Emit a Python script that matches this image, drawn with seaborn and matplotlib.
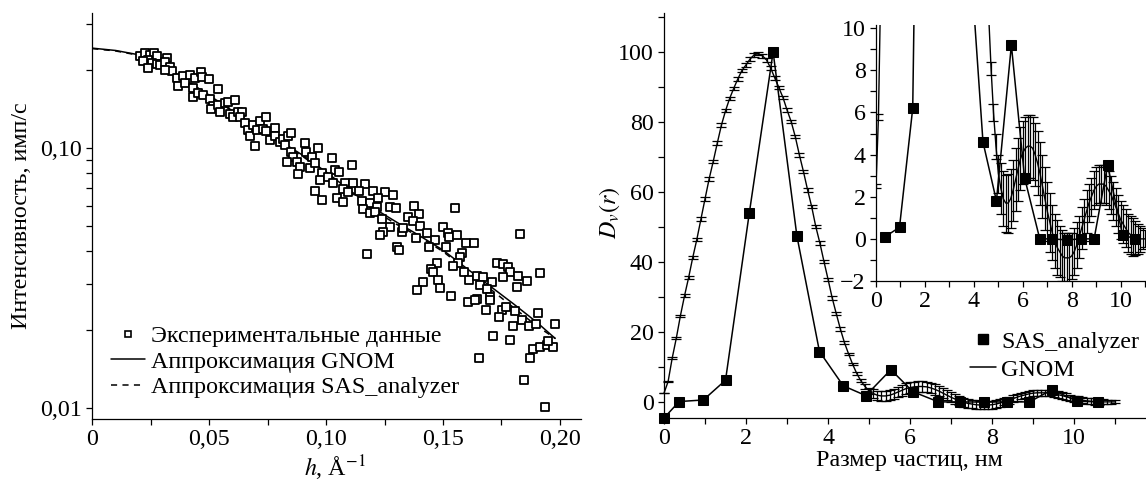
import matplotlib
matplotlib.use("Agg")
import matplotlib.pyplot as plt
import numpy as np
import seaborn as sns
from matplotlib.lines import Line2D
from matplotlib.ticker import FixedLocator, LogLocator, MultipleLocator, NullFormatter

# left panel: scattering curve, h (1/A) vs intensity
exp_h = [
    0.0204, 0.0225, 0.0247, 0.0265, 0.0275, 0.0240, 0.0218, 0.0254, 0.0275, 0.0318,
    0.0240, 0.0289, 0.0311, 0.0332, 0.0342, 0.0311, 0.0361, 0.0389, 0.0368, 0.0396,
    0.0418, 0.0439, 0.0465, 0.0468, 0.0499, 0.0432, 0.0536, 0.0432, 0.0453, 0.0475,
    0.0503, 0.0517, 0.0510, 0.0539, 0.0546, 0.0567, 0.0581, 0.0610, 0.0589, 0.0603,
    0.0624, 0.0639, 0.0631, 0.0653, 0.0667, 0.0674, 0.0695, 0.0688, 0.0703, 0.0717,
    0.0745, 0.0731, 0.0745, 0.0781, 0.0760, 0.0781, 0.0802, 0.0817, 0.0838, 0.0849,
    0.0824, 0.0852, 0.0859, 0.0831, 0.0874, 0.0888, 0.0881, 0.0909, 0.0916, 0.0938,
    0.0966, 0.0930, 0.0952, 0.0981, 0.0973, 0.0952, 0.0981, 0.1024, 0.1112, 0.1038,
    0.1057, 0.1010, 0.1031, 0.1081, 0.1117, 0.1166, 0.1071, 0.1095, 0.1142, 0.1199,
    0.1252, 0.1288, 0.1045, 0.1074, 0.1152, 0.1188, 0.1223, 0.1216, 0.1273, 0.1299,
    0.1376, 0.1159, 0.1188, 0.1209, 0.1238, 0.1273, 0.1245, 0.1231, 0.1323, 0.1327,
    0.1352, 0.1399, 0.1370, 0.1402, 0.1433, 0.1466, 0.1384, 0.1441, 0.1513, 0.1174,
    0.1302, 0.1312, 0.1551, 0.1501, 0.1523, 0.1527, 0.1558, 0.1598, 0.1632, 0.1580,
    0.1573, 0.1565, 0.1544, 0.1473, 0.1449, 0.1459, 0.1413, 0.1387, 0.1480, 0.1487,
    0.1590, 0.1611, 0.1644, 0.1672, 0.1711, 0.1658, 0.1687, 0.1701, 0.1533, 0.1644,
    0.1729, 0.1755, 0.1779, 0.1786, 0.1822, 0.1755, 0.1858, 0.1815, 0.1829, 0.1917,
    0.1608, 0.1637, 0.1701, 0.1684, 0.1751, 0.1769, 0.1808, 0.1741, 0.1836, 0.1798,
    0.1867, 0.1900, 0.1907, 0.1979, 0.1715, 0.1786, 0.1886, 0.1915, 0.1943, 0.1972,
    0.1950, 0.1872, 0.1655, 0.1846, 0.1936,
]
exp_i = [
    0.226, 0.232, 0.229, 0.232, 0.226, 0.219, 0.216, 0.213, 0.211, 0.222,
    0.203, 0.210, 0.214, 0.206, 0.199, 0.200, 0.186, 0.189, 0.173, 0.178,
    0.191, 0.186, 0.197, 0.188, 0.185, 0.170, 0.169, 0.157, 0.163, 0.160,
    0.155, 0.145, 0.141, 0.147, 0.138, 0.150, 0.151, 0.153, 0.136, 0.132,
    0.138, 0.138, 0.132, 0.125, 0.118, 0.111, 0.102, 0.123, 0.118, 0.127,
    0.132, 0.119, 0.116, 0.120, 0.108, 0.111, 0.106, 0.109, 0.111, 0.114,
    0.103, 0.0971, 0.0929, 0.0888, 0.0888, 0.0849, 0.0796, 0.105, 0.0971, 0.0929,
    0.100, 0.0837, 0.0875, 0.0800, 0.0755, 0.0687, 0.0632, 0.0915, 0.0862, 0.0825,
    0.0813, 0.0777, 0.0733, 0.0733, 0.0733, 0.0729, 0.0695, 0.0681, 0.0687, 0.0687,
    0.0676, 0.0661, 0.0645, 0.0619, 0.0628, 0.0614, 0.0645, 0.0596, 0.0596, 0.0590,
    0.0599, 0.0582, 0.0561, 0.0570, 0.0532, 0.0496, 0.0477, 0.0463, 0.0477, 0.0491,
    0.0545, 0.0556, 0.0522, 0.0502, 0.0473, 0.0443, 0.0450, 0.0418, 0.0418, 0.0390,
    0.0418, 0.0404, 0.0590, 0.0499, 0.0470, 0.0456, 0.0463, 0.0433, 0.0433, 0.0396,
    0.0382, 0.0360, 0.0353, 0.0362, 0.0341, 0.0334, 0.0306, 0.0283, 0.0311, 0.0289,
    0.0332, 0.0311, 0.0322, 0.0320, 0.0306, 0.0297, 0.0286, 0.0268, 0.0270, 0.0263,
    0.0362, 0.0357, 0.0350, 0.0334, 0.0322, 0.0320, 0.0308, 0.0291, 0.0467, 0.0330,
    0.0256, 0.0259, 0.0260, 0.0239, 0.0239, 0.0245, 0.0235, 0.0223, 0.0218, 0.0207,
    0.0207, 0.0211, 0.0232, 0.0211, 0.0189, 0.0183, 0.0169, 0.0172, 0.0174, 0.0172,
    0.0180, 0.0156, 0.0156, 0.0128, 0.0101,
]
fit_h = [0, 0.01, 0.02, 0.03, 0.04, 0.05, 0.06, 0.07, 0.08, 0.09, 0.10,
         0.11, 0.12, 0.13, 0.14, 0.15, 0.16, 0.17, 0.18, 0.19, 0.198]
gnom_fit = [0.243, 0.238, 0.229, 0.209, 0.182, 0.160, 0.139, 0.122, 0.107, 0.094, 0.081,
            0.069, 0.059, 0.052, 0.046, 0.0405, 0.0345, 0.0295, 0.0252, 0.0214, 0.0185]
sas_fit = [0.242, 0.237, 0.228, 0.209, 0.183, 0.160, 0.139, 0.121, 0.106, 0.093, 0.080,
           0.068, 0.058, 0.051, 0.0455, 0.040, 0.0340, 0.0288, 0.0244, 0.0207, 0.0185]

left_xticks = [0, 0.05, 0.10, 0.15, 0.20]
left_xlabels = ["0", "0,05", "0,10", "0,15", "0,20"]
left_yticks = [0.01, 0.1]
left_ylabels = ["0,01", "0,10"]

# right panel: size distribution D_v(r)
sas_r = [0.0, 0.37, 0.96, 1.5, 2.08, 2.66, 3.24, 3.79, 4.37, 4.92,
         5.53, 6.07, 6.69, 7.21, 7.79, 8.36, 8.91, 9.46, 10.07, 10.58]
sas_dv = [-4.6, 0.1, 0.55, 6.2, 54.0, 100.0, 47.4, 14.4, 4.6, 1.8,
          9.2, 2.9, 0.0, 0.0, -0.05, 0.0, 0.0, 3.5, 0.2, 0.0]

gnom_r = np.round(np.arange(0, 11.01, 0.1), 1)  # GNOM output grid, step 0.1 nm
gnom_dv = [
    2.5, 5.8, 12.5, 18.2, 24.6, 30.3, 35.5, 41.2, 46.4, 52.2,
    58.0, 63.7, 68.7, 74.0, 79.1, 83.2, 86.7, 89.6, 92.3, 94.7,
    96.3, 98.0, 99.2, 99.5, 98.9, 97.7, 95.4, 92.6, 89.8, 87.0,
    83.4, 80.1, 75.8, 70.6, 65.8, 60.6, 55.8, 50.1, 45.4, 40.1,
    35.0, 29.7, 25.2, 20.8, 16.9, 13.7, 10.7, 8.1, 6.0, 4.4,
    3.1, 2.4, 1.9, 1.7, 1.7, 1.9, 2.3, 2.8, 3.3, 3.8,
    4.1, 4.3, 4.4, 4.4, 4.3, 4.0, 3.6, 3.1, 2.5, 1.9,
    1.3, 0.8, 0.3, -0.1, -0.4, -0.6, -0.8, -0.9, -0.9, -0.9,
    -0.8, -0.6, -0.3, 0.1, 0.5, 0.9, 1.3, 1.7, 2.0, 2.3,
    2.5, 2.6, 2.6, 2.6, 2.5, 2.3, 2.1, 1.8, 1.5, 1.2,
    0.9, 0.7, 0.5, 0.3, 0.2, 0.1, 0.05, 0.0, 0.0, 0.0,
    0.0,
]
gnom_err = [
    0.1, 0.15, 0.2, 0.3, 0.3, 0.4, 0.4, 0.5, 0.5, 0.5,
    0.5, 0.5, 0.5, 0.5, 0.5, 0.5, 0.5, 0.5, 0.5, 0.5,
    0.5, 0.5, 0.5, 0.5, 0.5, 0.5, 0.5, 0.5, 0.5, 0.5,
    0.5, 0.5, 0.5, 0.5, 0.5, 0.5, 0.5, 0.5, 0.5, 0.5,
    0.5, 0.5, 0.5, 0.5, 0.4, 0.4, 0.3, 0.3, 0.4, 0.6,
    0.9, 1.2, 1.3, 1.35, 1.4, 1.4, 1.45, 1.5, 1.5, 1.5,
    1.5, 1.5, 1.5, 1.5, 1.5, 1.5, 1.5, 1.5, 1.5, 1.5,
    1.4, 1.4, 1.3, 1.3, 1.3, 1.2, 1.2, 1.2, 1.2, 1.2,
    1.1, 1.1, 1.1, 1.0, 1.0, 1.0, 1.0, 0.9, 0.9, 0.9,
    0.9, 0.9, 0.9, 0.9, 0.9, 0.9, 0.9, 0.9, 0.9, 0.9,
    0.9, 0.9, 0.9, 0.9, 0.9, 0.9, 0.8, 0.7, 0.6, 0.5,
    0.4,
]

sns.set_theme(style="ticks")
plt.rcParams["font.family"] = ["Liberation Serif", "DejaVu Serif"]
plt.rcParams.update({
    "mathtext.fontset": "stix",
    "font.size": 17.3,
    "axes.labelsize": 17.3,
    "xtick.labelsize": 17.3,
    "ytick.labelsize": 17.3,
    "legend.fontsize": 17.3,
    "axes.linewidth": 0.9,
    "axes.edgecolor": "black",
    "xtick.color": "black",
    "ytick.color": "black",
    "text.color": "black",
    "axes.labelcolor": "black",
})

fig = plt.figure(figsize=(11.46, 4.82), dpi=100)
ax1 = fig.add_axes([0.0805, 0.1307, 0.4262, 0.8417])
ax2 = fig.add_axes([0.5794, 0.1328, 0.4206, 0.8400])
ax3 = fig.add_axes([0.7644, 0.4170, 0.2356, 0.5310])


def style_ticks(ax):
    sns.despine(ax=ax)
    ax.tick_params(which="both", direction="out", length=4.5, width=0.9, pad=3)


# ---- left
ax1.set_yscale("log")
sns.lineplot(x=fit_h, y=gnom_fit, color="black", lw=1.1, ax=ax1, zorder=2)
sns.lineplot(x=fit_h, y=sas_fit, color="black", lw=1.1, ls=(0, (4, 3.5)), ax=ax1, zorder=2)
sns.scatterplot(x=exp_h, y=exp_i, marker="s", s=40, facecolor="white",
                edgecolor="black", linewidth=1.3, ax=ax1, zorder=3)
ax1.set_xlim(0, 0.2089)
ax1.set_ylim(0.00905, 0.331)
ax1.xaxis.set_major_locator(FixedLocator(left_xticks))
ax1.set_xticklabels(left_xlabels)
ax1.xaxis.set_minor_locator(MultipleLocator(0.025))
ax1.yaxis.set_major_locator(FixedLocator(left_yticks))
ax1.set_yticklabels(left_ylabels)
ax1.yaxis.set_minor_locator(LogLocator(base=10, subs=np.arange(2, 10)))
ax1.yaxis.set_minor_formatter(NullFormatter())
style_ticks(ax1)
ax1.set_xlabel("$h$, Å$^{-1}$")
ax1.set_ylabel("Интенсивность, имп/с")
ax1.xaxis.set_label_coords(0.497, -0.085)
ax1.yaxis.set_label_coords(-0.123, 0.50)

left_handles = [
    Line2D([], [], marker="s", ls="none", mfc="white", mec="black", ms=5, mew=1.2),
    Line2D([], [], color="black", lw=1.1),
    Line2D([], [], color="black", lw=1.1, ls=(0, (4, 3.5))),
]
left_names = ["Экспериментальные данные", "Аппроксимация GNOM", "Аппроксимация SAS_analyzer"]
ax1.legend(left_handles, left_names, loc="lower left", frameon=False,
           bbox_to_anchor=(111 / 1146, (482 - 398) / 482), bbox_transform=fig.transFigure,
           handlelength=1.4, handletextpad=0.25, labelspacing=0.15,
           borderpad=0, borderaxespad=0)

# ---- right, main and inset
for ax in (ax2, ax3):
    ax.errorbar(gnom_r, gnom_dv, yerr=gnom_err, color="black", lw=1.0,
                elinewidth=0.9, capsize=3.5, capthick=0.9, zorder=2)

sns.lineplot(x=sas_r, y=sas_dv, color="black", lw=1.1, marker="s",
             markersize=6.5, mfc="black", mec="black", ax=ax2, zorder=3)
# the inset starts its SAS_analyzer curve at the second node
sns.lineplot(x=sas_r[1:], y=sas_dv[1:], color="black", lw=1.1, marker="s",
             markersize=7, mfc="black", mec="black", ax=ax3, zorder=3)

ax2.set_xlim(0, 11.75)
ax2.set_ylim(-4.6, 111.1)
ax2.xaxis.set_major_locator(MultipleLocator(2))
ax2.xaxis.set_minor_locator(MultipleLocator(1))
ax2.yaxis.set_major_locator(MultipleLocator(20))
ax2.yaxis.set_minor_locator(MultipleLocator(10))
for ln in ax2.lines:
    ln.set_clip_on(False)
style_ticks(ax2)
ax2.set_xlabel("Размер частиц, нм")
ax2.set_ylabel("$D_v(r)$")
ax2.xaxis.set_label_coords(0.51, -0.08)
ax2.yaxis.set_label_coords(-0.087, 0.506)

right_handles = [
    Line2D([], [], marker="s", ls="none", mfc="black", mec="black", ms=6.5),
    Line2D([], [], color="black", lw=1.1),
]
ax2.legend(right_handles, ["SAS_analyzer", "GNOM"], loc="upper left", frameon=False,
           bbox_to_anchor=(970 / 1146, (482 - 331) / 482), bbox_transform=fig.transFigure,
           handlelength=1.1, handletextpad=0.2, labelspacing=0.25,
           borderpad=0, borderaxespad=0)

ax3.set_facecolor("white")
ax3.set_xlim(0, 11.03)
ax3.set_ylim(-2, 10.15)
ax3.xaxis.set_major_locator(MultipleLocator(2))
ax3.xaxis.set_minor_locator(MultipleLocator(1))
ax3.yaxis.set_major_locator(MultipleLocator(2))
ax3.yaxis.set_minor_locator(MultipleLocator(1))
style_ticks(ax3)
ax3.set_xlabel("")
ax3.set_ylabel("")

fig.savefig("out.png", dpi=100)
